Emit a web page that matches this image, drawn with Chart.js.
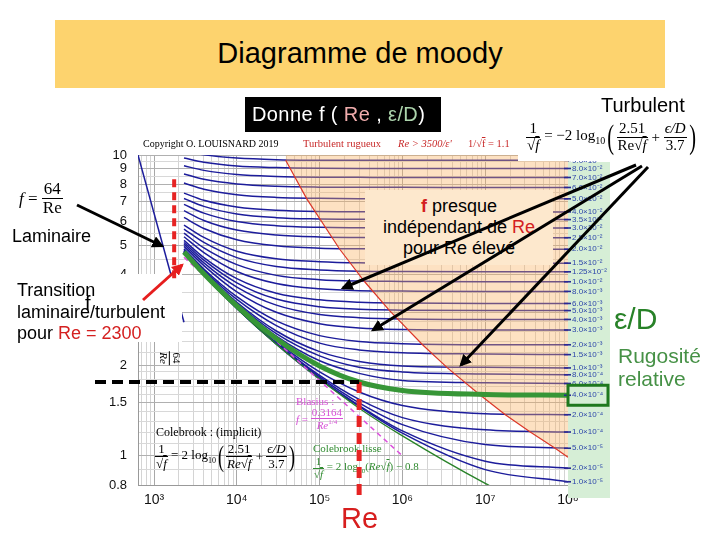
<!DOCTYPE html>
<html>
<head>
<meta charset="utf-8">
<script src="https://cdn.jsdelivr.net/npm/chart.js@4.4.1/dist/chart.umd.min.js"></script>
<style>
body{margin:0;background:#fff;}
#wrap{position:relative;width:720px;height:540px;overflow:hidden;font-family:"Liberation Sans",Arial,sans-serif;color:#000;}
#moody{position:absolute;left:0;top:0;}
.abs{position:absolute;white-space:nowrap;line-height:1;}
.serif{font-family:"Liberation Serif","DejaVu Serif",serif;}
.frac{display:inline-block;vertical-align:middle;text-align:center;}
.frac>span{display:block;line-height:1.05;padding:0 1px;}
.frac>span.num{border-bottom:1px solid currentColor;}
.ov{text-decoration:overline;}
.red{color:#d42020;}
svg{position:absolute;left:0;top:0;}
</style>
</head>
<body>
<div id="wrap">
<canvas id="moody" width="720" height="540"></canvas>

<!-- slide decorations -->
<div class="abs" style="left:55px;top:20px;width:610px;height:68px;background:rgb(253,211,110);"></div>
<div class="abs" style="left:55px;top:39px;width:610px;text-align:center;font-size:29px;">Diagramme de moody</div>

<div class="abs" style="left:245px;top:97px;width:196px;height:35px;background:#000;"></div>
<div class="abs" style="left:252px;top:104px;font-size:20px;color:#fff;letter-spacing:0.4px;">Donne f ( <span style="color:rgb(240,172,172)">Re</span> , <span style="color:rgb(172,212,172)">ε/D</span>)</div>

<div class="abs" style="left:601px;top:95px;font-size:20px;">Turbulent</div>

<div class="abs serif" style="left:143px;top:139px;font-size:10px;">Copyright O. LOUISNARD 2019</div>
<div class="abs serif" style="left:303px;top:139px;font-size:10.5px;color:rgb(200,40,40);">Turbulent rugueux</div>
<div class="abs serif" style="left:398px;top:139px;font-size:10.5px;color:rgb(200,40,40);font-style:italic;">Re &gt; 3500/ε'</div>
<div class="abs serif" style="left:468px;top:139px;font-size:10.5px;color:rgb(200,40,40);">1/√<span class="ov">f</span> = 1.1</div>

<div class="abs" style="left:518px;top:114px;width:198px;height:47px;background:#fff;"></div>
<div class="abs serif" style="left:526px;top:117px;height:40px;font-size:15px;display:flex;align-items:center;">
  <span class="frac"><span class="num">1</span><span>√<span class="ov"><i>f</i></span></span></span>
  <span>&nbsp;= −2 log<sub style="font-size:10px">10</sub></span>
  <span style="font-size:34px;font-weight:100;transform:scaleX(0.6);display:inline-block;">(</span>
  <span class="frac"><span class="num">2.51</span><span>Re√<span class="ov"><i>f</i></span></span></span>
  <span>&nbsp;+&nbsp;</span>
  <span class="frac"><span class="num"><i>ϵ/D</i></span><span>3.7</span></span>
  <span style="font-size:34px;font-weight:100;transform:scaleX(0.6);display:inline-block;">)</span>
</div>

<div class="abs serif" style="left:19px;top:181px;height:34px;font-size:17px;display:flex;align-items:center;">
  <i>f</i>&nbsp;=&nbsp;<span class="frac"><span class="num">64</span><span>Re</span></span>
</div>
<div class="abs" style="left:12px;top:227px;font-size:18px;">Laminaire</div>

<div class="abs" style="left:0px;top:274px;width:182px;height:68px;background:#fff;"></div>
<div class="abs" style="left:17px;top:280px;font-size:18px;line-height:21.5px;">Transition<br>laminaire/turbulent<br>pour <span class="red">Re = 2300</span></div>
<div class="abs" style="left:85px;top:293px;font-size:20px;">f</div>

<div class="abs serif" style="left:163px;top:346px;font-size:11px;transform:rotate(90deg);transform-origin:center;">
  <span class="frac"><span class="num">64</span><span><i>Re</i></span></span>
</div>

<div class="abs" style="left:365px;top:190px;width:188px;height:75px;background:rgb(253,232,205);"></div>
<div class="abs" style="left:365px;top:196px;width:188px;text-align:center;font-size:18px;line-height:21px;">
  <b class="red">f</b> presque<br>indépendant de <span class="red">Re</span><br>pour Re élevé
</div>

<div class="abs serif" style="left:296px;top:396px;font-size:11px;color:rgb(215,80,215);">Blasius :</div>
<div class="abs serif" style="left:296px;top:408px;height:22px;font-size:11px;color:rgb(215,80,215);display:flex;align-items:center;">
  <i>f</i>&nbsp;=&nbsp;<span class="frac"><span class="num">0.3164</span><span><i>Re</i><sup style="font-size:7px">1/4</sup></span></span>
</div>

<div class="abs serif" style="left:156px;top:426px;font-size:12px;">Colebrook : (implicit)</div>
<div class="abs serif" style="left:155px;top:441px;height:30px;font-size:13px;display:flex;align-items:center;">
  <span class="frac"><span class="num">1</span><span>√<span class="ov"><i>f</i></span></span></span>
  <span>&nbsp;= 2 log<sub style="font-size:8px">10</sub></span>
  <span style="font-size:30px;transform:scaleX(0.6);display:inline-block;">(</span>
  <span class="frac"><span class="num">2.51</span><span><i>Re</i>√<span class="ov"><i>f</i></span></span></span>
  <span>&nbsp;+&nbsp;</span>
  <span class="frac"><span class="num"><i>ϵ/D</i></span><span>3.7</span></span>
  <span style="font-size:30px;transform:scaleX(0.6);display:inline-block;">)</span>
</div>

<div class="abs serif" style="left:313px;top:443px;font-size:11px;color:rgb(50,140,50);">Colebrook lisse</div>
<div class="abs serif" style="left:313px;top:457px;height:22px;font-size:11px;color:rgb(50,140,50);display:flex;align-items:center;">
  <span class="frac"><span class="num">1</span><span>√<span class="ov"><i>f</i></span></span></span>
  <span>&nbsp;= 2 log<sub style="font-size:7px">10</sub>(<i>Re</i>√<span class="ov"><i>f</i></span>) − 0.8</span>
</div>

<div class="abs" style="left:341px;top:504px;font-size:29px;color:rgb(215,30,30);">Re</div>

<div class="abs" style="left:614px;top:304px;font-size:30px;color:rgb(40,130,40);">ε/D</div>
<div class="abs" style="left:618px;top:344px;font-size:21px;line-height:23px;color:rgb(70,145,70);">Rugosité<br>relative</div>

<svg id="marks" width="720" height="540">
  <defs>
    <marker id="headBlack" viewBox="0 0 10 10" refX="8" refY="5" markerWidth="4" markerHeight="4" orient="auto">
      <path d="M0,0 L10,5 L0,10 z" fill="#000"/>
    </marker>
    <marker id="headRed" viewBox="0 0 10 10" refX="8" refY="5" markerWidth="4" markerHeight="4" orient="auto">
      <path d="M0,0 L10,5 L0,10 z" fill="rgb(230,30,30)"/>
    </marker>
  </defs>
  <line id="transMark" stroke="rgb(230,35,35)" stroke-width="4" stroke-dasharray="8,5"/>
  <line id="readRe" stroke="rgb(230,35,35)" stroke-width="5" stroke-dasharray="11,6"/>
  <line id="readF" stroke="#000" stroke-width="4" stroke-dasharray="11,6"/>
  <rect id="pickBox" fill="none" stroke="rgb(30,120,30)" stroke-width="3"/>
  <line x1="77" y1="205" x2="162" y2="246" stroke="#000" stroke-width="3" marker-end="url(#headBlack)"/>
  <line x1="143" y1="300" x2="182" y2="265" stroke="rgb(230,30,30)" stroke-width="3" marker-end="url(#headRed)"/>
  <line x1="636" y1="165" x2="343" y2="288" stroke="#000" stroke-width="3" marker-end="url(#headBlack)"/>
  <line x1="642" y1="166" x2="373" y2="330" stroke="#000" stroke-width="3" marker-end="url(#headBlack)"/>
  <line x1="648" y1="167" x2="461" y2="365" stroke="#000" stroke-width="3" marker-end="url(#headBlack)"/>
</svg>
</div>

<script>
// Reynolds numbers where each curve was read
const reynolds = [2300, 4000, 1e4, 3e4, 1e5, 3e5, 1e6, 1e7, 1e8];

// relative roughness of each curve and its label
const roughness = [1e-5, 2e-5, 5e-5, 1e-4, 2e-4, 4e-4, 6e-4, 8e-4, 1e-3, 1.5e-3, 2e-3, 3e-3, 4e-3, 5e-3, 6e-3, 8e-3,
                   1e-2, 1.25e-2, 1.5e-2, 2e-2, 2.5e-2, 3e-2, 3.5e-2, 4e-2, 5e-2, 6e-2, 7e-2, 8e-2, 9e-2];
const roughnessLabels = ['1.0×10⁻⁵','2.0×10⁻⁵','5.0×10⁻⁵','1.0×10⁻⁴','2.0×10⁻⁴','4.0×10⁻⁴','6.0×10⁻⁴','8.0×10⁻⁴',
                   '1.0×10⁻³','1.5×10⁻³','2.0×10⁻³','3.0×10⁻³','4.0×10⁻³','5.0×10⁻³','6.0×10⁻³','8.0×10⁻³',
                   '1.0×10⁻²','1.25×10⁻²','1.5×10⁻²','2.0×10⁻²','2.5×10⁻²','3.0×10⁻²','3.5×10⁻²','4.0×10⁻²',
                   '5.0×10⁻²','6.0×10⁻²','7.0×10⁻²','8.0×10⁻²','9.0×10⁻²'];

// 100 x f, one row per roughness, one column per Reynolds number
const frictionCurves = [
  [4.73, 3.99, 3.09, 2.35, 1.80, 1.46, 1.19, 0.90, 0.82],
  [4.73, 3.99, 3.09, 2.36, 1.81, 1.47, 1.21, 0.96, 0.91],
  [4.73, 3.99, 3.10, 2.36, 1.83, 1.50, 1.27, 1.09, 1.06],
  [4.74, 4.00, 3.11, 2.38, 1.85, 1.54, 1.34, 1.22, 1.20],
  [4.75, 4.01, 3.12, 2.40, 1.90, 1.63, 1.47, 1.38, 1.37],
  [4.76, 4.03, 3.15, 2.45, 1.99, 1.76, 1.65, 1.60, 1.59],
  [4.78, 4.05, 3.18, 2.50, 2.07, 1.88, 1.78, 1.75, 1.74],
  [4.79, 4.07, 3.21, 2.55, 2.15, 1.97, 1.90, 1.87, 1.86],
  [4.81, 4.09, 3.24, 2.60, 2.22, 2.06, 1.99, 1.97, 1.96],
  [4.85, 4.14, 3.31, 2.71, 2.37, 2.25, 2.20, 2.18, 2.17],
  [4.88, 4.18, 3.38, 2.81, 2.51, 2.40, 2.36, 2.34, 2.34],
  [4.97, 4.29, 3.51, 3.00, 2.75, 2.66, 2.63, 2.62, 2.62],
  [5.05, 4.38, 3.64, 3.17, 2.95, 2.88, 2.85, 2.84, 2.84],
  [5.12, 4.47, 3.76, 3.32, 3.13, 3.07, 3.05, 3.04, 3.04],
  [5.20, 4.56, 3.88, 3.47, 3.30, 3.24, 3.22, 3.21, 3.21],
  [5.35, 4.74, 4.10, 3.74, 3.59, 3.54, 3.53, 3.52, 3.52],
  [5.50, 4.91, 4.32, 3.98, 3.85, 3.81, 3.80, 3.79, 3.79],
  [5.67, 5.12, 4.56, 4.26, 4.15, 4.11, 4.10, 4.09, 4.09],
  [5.85, 5.32, 4.79, 4.52, 4.42, 4.38, 4.37, 4.37, 4.37],
  [6.20, 5.70, 5.23, 4.99, 4.90, 4.88, 4.87, 4.86, 4.86],
  [6.53, 6.06, 5.63, 5.42, 5.34, 5.32, 5.31, 5.31, 5.31],
  [6.85, 6.41, 6.01, 5.82, 5.75, 5.73, 5.72, 5.72, 5.72],
  [7.17, 6.75, 6.37, 6.19, 6.13, 6.11, 6.11, 6.10, 6.10],
  [7.47, 7.07, 6.72, 6.55, 6.49, 6.48, 6.47, 6.47, 6.47],
  [8.07, 7.70, 7.38, 7.23, 7.18, 7.16, 7.16, 7.15, 7.15],
  [8.65, 8.30, 8.01, 7.87, 7.82, 7.81, 7.81, 7.80, 7.80],
  [9.21, 8.89, 8.61, 8.49, 8.44, 8.43, 8.42, 8.42, 8.42],
  [9.77, 9.46, 9.19, 9.08, 9.03, 9.02, 9.02, 9.02, 9.02],
  [10.31, 10.01, 9.77, 9.65, 9.61, 9.60, 9.60, 9.60, 9.60]
];

// smooth pipe (Colebrook lisse), same Reynolds numbers
const smoothF = [4.73, 3.99, 3.09, 2.35, 1.80, 1.44, 1.165, 0.81, 0.594];

// laminar 64/Re
const laminarRe = [640, 2300];
const laminarF = [10.0, 2.78];

// Blasius
const blasiusRe = [2300, 1e6];
const blasiusF = [4.57, 1.00];

// limit of the fully rough zone
const roughLimitRe = [38900, 70000, 175000, 350000, 700000, 1.75e6, 3.5e6, 8.75e6, 1.75e7, 3.5e7, 7e7, 1e8];
const roughLimitF = [9.60, 7.15, 4.86, 3.79, 3.04, 2.34, 1.96, 1.59, 1.37, 1.20, 1.06, 0.99];

// highlighted curve and the reading on it
const pickedIndex = 5;       // eps/D = 4e-4
const readRe = 3e5;
const readF = 1.76;
const transitionMarkRe = 1750;

// axes
const xLabelValues = [1e3, 1e4, 1e5, 1e6, 1e7, 1e8];
const xLabelTexts = ['10³', '10⁴', '10⁵', '10⁶', '10⁷', '10⁸'];
const yGridValues = [0.8, 0.9, 1, 1.1, 1.2, 1.3, 1.4, 1.5, 1.6, 1.7, 1.8, 1.9, 2, 2.2, 2.4, 2.6, 2.8, 3,
                     3.5, 4, 4.5, 5, 5.5, 6, 6.5, 7, 7.5, 8, 8.5, 9, 9.5, 10];
const yLabelValues = [0.8, 1, 1.5, 2, 3, 4, 5, 6, 7, 8, 9, 10];

var xGridValues = [700, 800, 900];
for (var n = 3; n < 8; n++) {
  for (var k = 1; k < 10; k++) xGridValues.push(k * Math.pow(10, n));
}
xGridValues.push(1e8);

function pts(xs, ys) { return xs.map(function (x, i) { return {x: x, y: ys[i]}; }); }

var datasets = [];
roughness.forEach(function (r, i) {
  datasets.push({
    data: pts(reynolds, frictionCurves[i]),
    borderColor: 'rgb(28,28,155)', borderWidth: 1.5,
    cubicInterpolationMode: 'monotone', order: 10
  });
});
datasets.push({ data: pts(reynolds, smoothF), borderColor: 'rgb(40,130,40)', borderWidth: 1.3, cubicInterpolationMode: 'monotone', order: 9 });
datasets.push({ data: pts(laminarRe, laminarF), borderColor: 'rgb(28,28,155)', borderWidth: 1.5, order: 9 });
datasets.push({ data: pts(roughLimitRe, roughLimitF), borderColor: 'rgb(220,55,40)', borderWidth: 1.2,
  fill: 'end', backgroundColor: 'rgba(250,176,95,0.38)', order: 5 });
datasets.push({ data: pts(blasiusRe, blasiusF), borderColor: 'rgb(220,80,220)', borderWidth: 1.5, borderDash: [5, 4], order: 4 });
datasets.push({ data: pts(reynolds, frictionCurves[pickedIndex]), borderColor: 'rgb(55,150,55)', borderWidth: 5,
  cubicInterpolationMode: 'monotone', order: 1 });

datasets.forEach(function (d) { d.showLine = true; d.pointRadius = 0; if (d.fill === undefined) d.fill = false; });

// green band with the roughness labels, right of the plot
var bandPlugin = {
  id: 'roughnessBand',
  afterDraw: function (chart) {
    var ctx = chart.ctx, area = chart.chartArea, y = chart.scales.y;
    ctx.save();
    ctx.fillStyle = 'rgb(214,238,214)';
    ctx.fillRect(area.right, 162, 42, 336);
    ctx.font = '8px "Liberation Sans", Arial, sans-serif';
    ctx.textBaseline = 'middle';
    roughness.forEach(function (r, i) {
      var row = frictionCurves[i];
      var py = y.getPixelForValue(row[row.length - 1]);
      ctx.fillStyle = 'rgb(40,40,150)';
      ctx.fillRect(area.right - 4, py - 0.8, 7, 1.6);
      ctx.fillStyle = 'rgb(45,70,170)';
      ctx.fillText(roughnessLabels[i], area.right + 4, py, 37);
    });
    ctx.restore();
  }
};

var chart = new Chart(document.getElementById('moody'), {
  type: 'scatter',
  data: { datasets: datasets },
  options: {
    responsive: false,
    animation: false,
    layout: { padding: { left: 100, top: 155, right: 152, bottom: 0 } },
    plugins: { legend: { display: false }, tooltip: { enabled: false } },
    scales: {
      x: {
        type: 'logarithmic', min: 640, max: 1e8,
        afterBuildTicks: function (s) { s.ticks = xGridValues.map(function (v) { return {value: v}; }); },
        afterFit: function (s) { s.height = 55; },
        ticks: {
          autoSkip: false, maxRotation: 0, padding: 7, color: '#111',
          font: { family: 'Liberation Sans', size: 14 },
          callback: function (v) {
            var i = xLabelValues.indexOf(v);
            return i < 0 ? '' : xLabelTexts[i];
          }
        },
        grid: {
          drawTicks: false,
          color: function (c) { return xLabelValues.indexOf(c.tick.value) >= 0 ? '#a8a8a8' : '#d4d4d4'; }
        },
        border: { color: '#999' }
      },
      y: {
        type: 'logarithmic', min: 0.8, max: 10,
        afterBuildTicks: function (s) { s.ticks = yGridValues.map(function (v) { return {value: v}; }); },
        afterFit: function (s) { s.width = 38; },
        ticks: {
          autoSkip: false, padding: 11, color: '#111',
          font: { family: 'Liberation Sans', size: 13 },
          callback: function (v) { return yLabelValues.indexOf(v) >= 0 ? String(v) : ''; }
        },
        grid: {
          drawTicks: false,
          color: function (c) { return yLabelValues.indexOf(c.tick.value) >= 0 ? '#b0b0b0' : '#d8d8d8'; }
        },
        border: { color: '#999' }
      }
    }
  },
  plugins: [bandPlugin]
});

// dashed reading lines and the box around the picked label, placed through the scales
var sx = chart.scales.x, sy = chart.scales.y, area = chart.chartArea;
function setLine(id, x1, y1, x2, y2) {
  var el = document.getElementById(id);
  el.setAttribute('x1', x1); el.setAttribute('y1', y1);
  el.setAttribute('x2', x2); el.setAttribute('y2', y2);
}
setLine('transMark', sx.getPixelForValue(transitionMarkRe), sy.getPixelForValue(8.3),
                     sx.getPixelForValue(transitionMarkRe), sy.getPixelForValue(3.85));
setLine('readRe', sx.getPixelForValue(readRe), sy.getPixelForValue(readF), sx.getPixelForValue(readRe), area.bottom + 10);
setLine('readF', 95, sy.getPixelForValue(readF), sx.getPixelForValue(readRe), sy.getPixelForValue(readF));
var pickRow = frictionCurves[pickedIndex];
var box = document.getElementById('pickBox');
var by = sy.getPixelForValue(pickRow[pickRow.length - 1]);
box.setAttribute('x', area.right);
box.setAttribute('y', by - 10);
box.setAttribute('width', 40);
box.setAttribute('height', 20);
</script>
</body>
</html>
